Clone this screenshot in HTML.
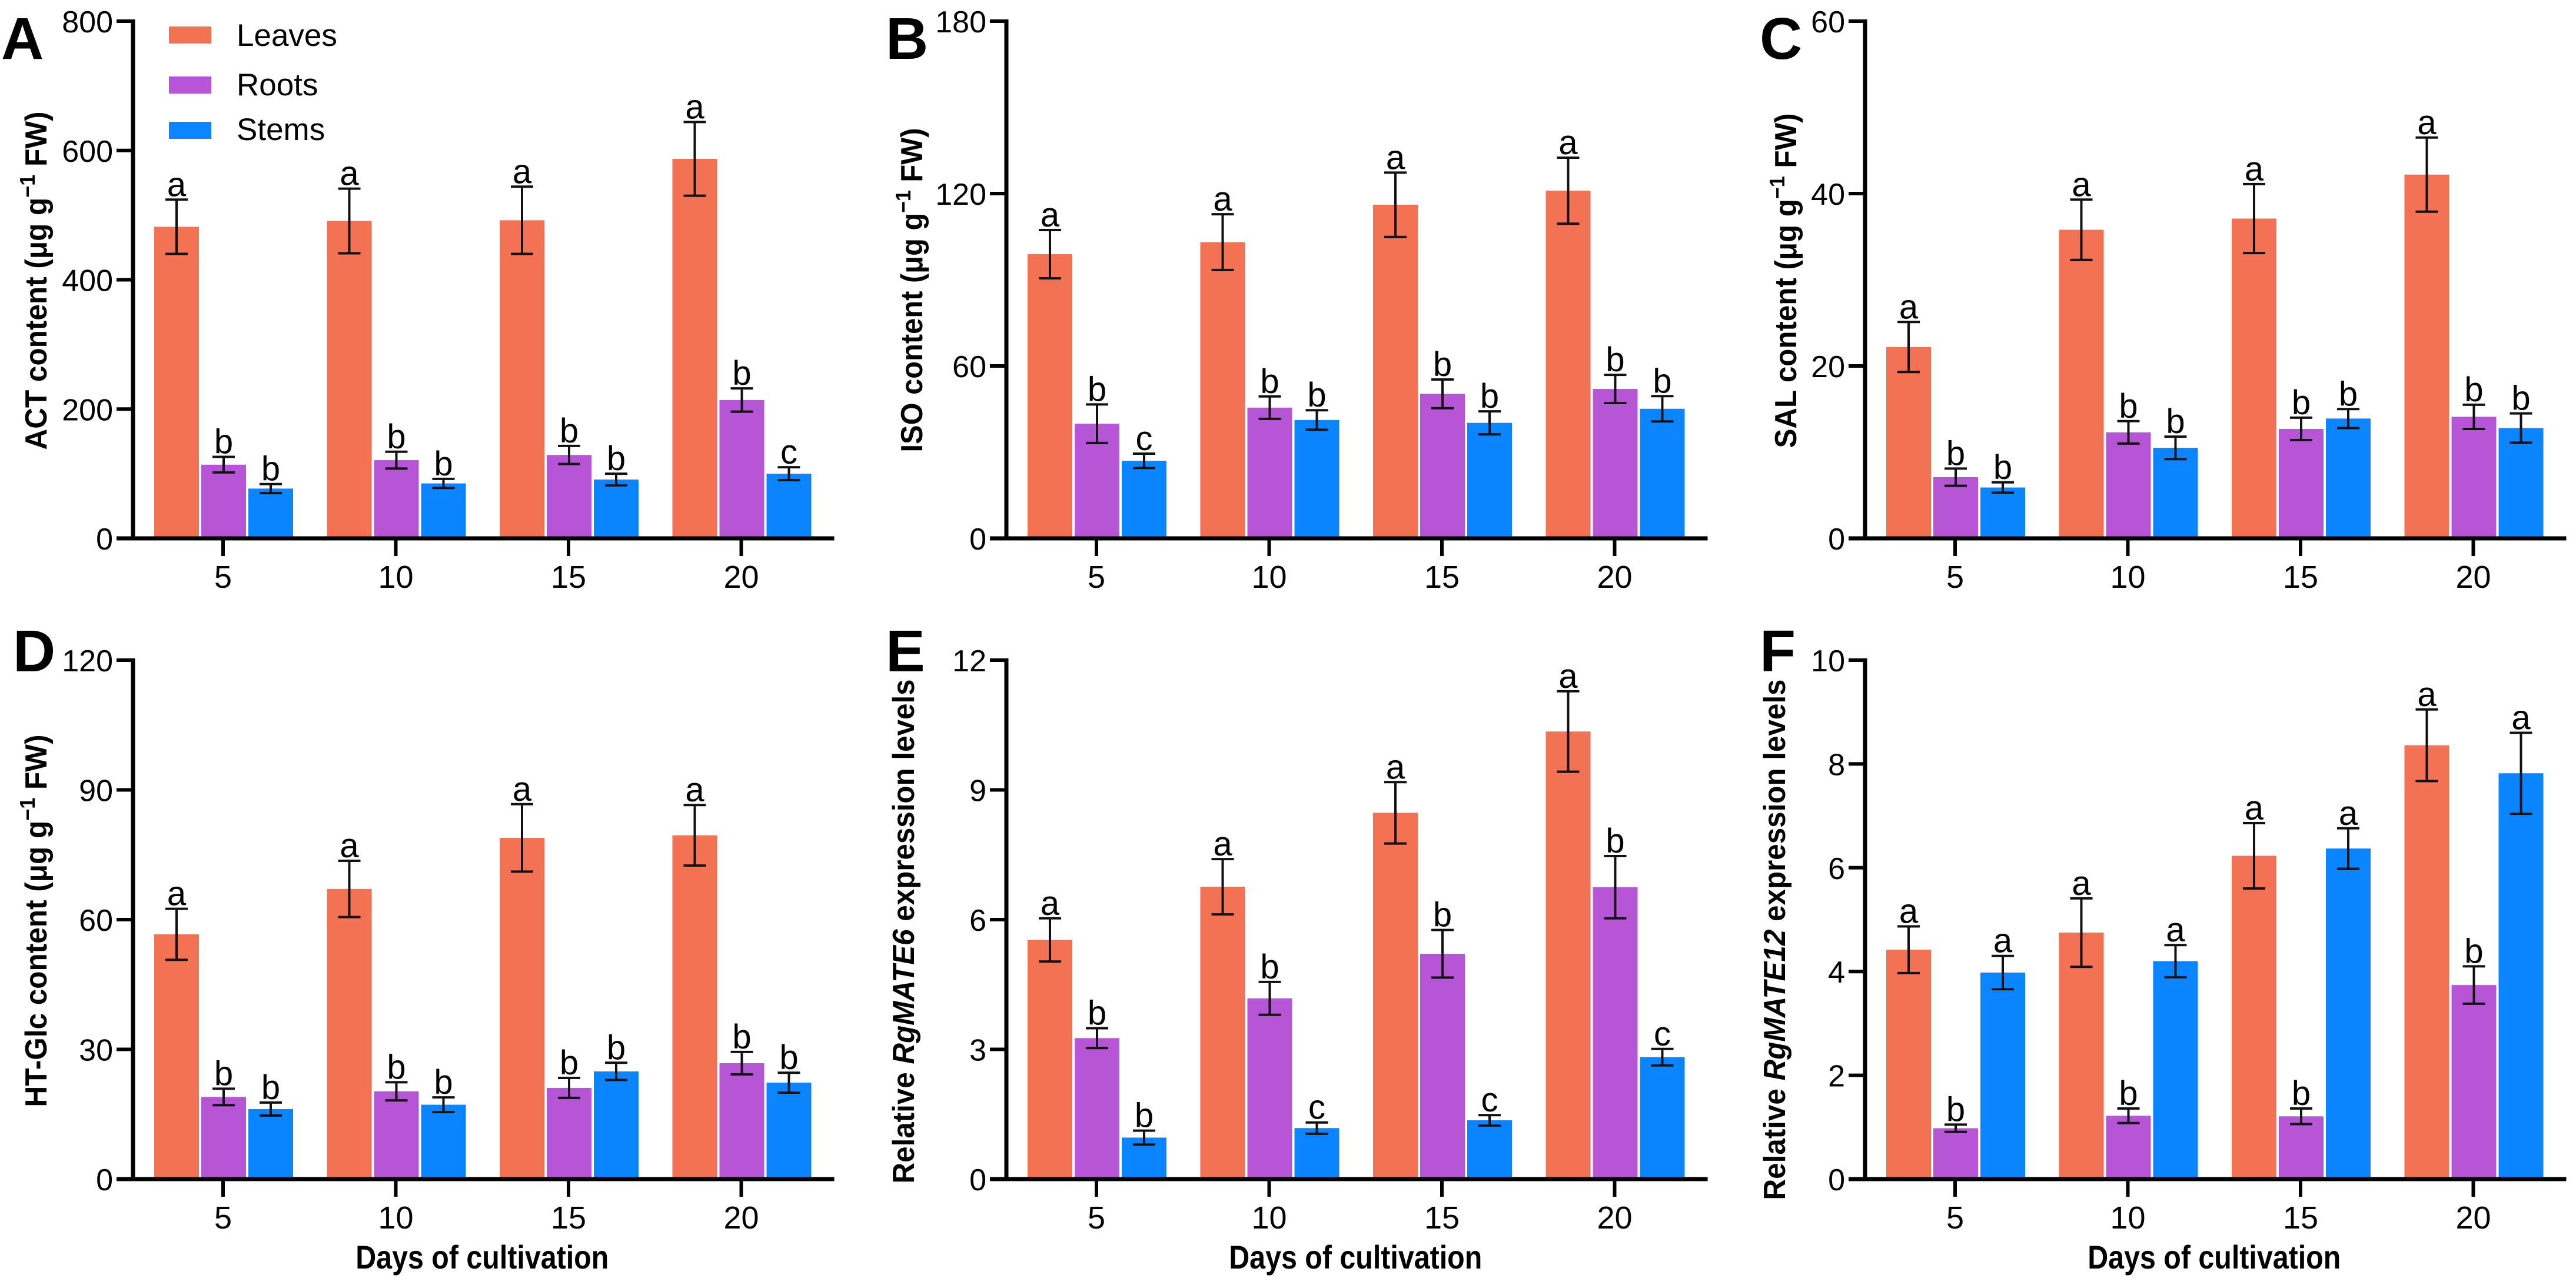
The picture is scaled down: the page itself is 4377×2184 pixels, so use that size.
<!DOCTYPE html>
<html><head><meta charset="utf-8"><style>
html,body{margin:0;padding:0;background:#fff;}
svg{display:block;font-family:"Liberation Sans",Arial,sans-serif;}
</style></head><body>
<svg id="fig" width="4377" height="2184" viewBox="0 0 4377 2184" xmlns="http://www.w3.org/2000/svg"></svg>
<script>
const categories = ["5","10","15","20"];
const seriesNames = ["Leaves","Roots","Stems"];
const colors = ["#F37254","#B656D6","#0A84FF"];
// A ACT
const actLeaves=[482,491,492,587], actLeavesErr=[42,50,52,57];
const actRoots=[114,121,129,214], actRootsErr=[12,13,14,18];
const actStems=[77,85,91,100], actStemsErr=[7,7,9,10];
const actLetters=[["a","a","a","a"],["b","b","b","b"],["b","b","b","c"]];
const actTicks=[0,200,400,600,800];
// B ISO
const isoLeaves=[98.9,103.1,116.1,121], isoLeavesErr=[8.4,9.7,11.2,11.5];
const isoRoots=[39.9,45.5,50.3,52.0], isoRootsErr=[6.7,3.9,5,4.9];
const isoStems=[27.0,41.2,40.2,45.1], isoStemsErr=[2.5,3.4,4,4.4];
const isoLetters=[["a","a","a","a"],["b","b","b","b"],["c","b","b","b"]];
const isoTicks=[0,60,120,180];
// C SAL
const salLeaves=[22.2,35.8,37.1,42.2], salLeavesErr=[2.9,3.5,4,4.3];
const salRoots=[7.1,12.3,12.7,14.1], salRootsErr=[1.0,1.3,1.3,1.4];
const salStems=[5.9,10.5,13.9,12.8], salStemsErr=[0.6,1.3,1.1,1.7];
const salLetters=[["a","a","a","a"],["b","b","b","b"],["b","b","b","b"]];
const salTicks=[0,20,40,60];
// D HT-Glc
const htLeaves=[56.6,67.1,78.9,79.5], htLeavesErr=[5.9,6.5,7.8,7];
const htRoots=[19.0,20.3,21.1,26.8], htRootsErr=[1.9,2.1,2.3,2.6];
const htStems=[16.2,17.2,24.9,22.3], htStemsErr=[1.5,1.7,2.0,2.3];
const htLetters=[["a","a","a","a"],["b","b","b","b"],["b","b","b","b"]];
const htTicks=[0,30,60,90,120];
// E RgMATE6
const m6Leaves=[5.53,6.76,8.47,10.35], m6LeavesErr=[0.5,0.64,0.71,0.93];
const m6Roots=[3.26,4.18,5.21,6.75], m6RootsErr=[0.23,0.38,0.55,0.72];
const m6Stems=[0.96,1.18,1.36,2.82], m6StemsErr=[0.16,0.13,0.12,0.19];
const m6Letters=[["a","a","a","a"],["b","b","b","b"],["b","c","c","c"]];
const m6Ticks=[0,3,6,9,12];
// F RgMATE12
const m12Leaves=[4.42,4.75,6.23,8.36], m12LeavesErr=[0.45,0.66,0.63,0.69];
const m12Roots=[0.98,1.22,1.21,3.74], m12RootsErr=[0.07,0.14,0.15,0.36];
const m12Stems=[3.98,4.20,6.37,7.82], m12StemsErr=[0.32,0.31,0.39,0.78];
const m12Letters=[["a","a","a","a"],["b","b","b","b"],["a","a","a","a"]];
const m12Ticks=[0,2,4,6,8,10];

const NS="http://www.w3.org/2000/svg";
const svg=document.getElementById('fig');
function mk(tag,attrs,parent,text){const e=document.createElementNS(NS,tag);for(const k in attrs)e.setAttribute(k,attrs[k]);if(text!==undefined)e.textContent=text;(parent||svg).appendChild(e);return e;}

const panels=[
 {id:"A",key:"act",ax:226,top:36,base:915,vals:[actLeaves,actRoots,actStems],errs:[actLeavesErr,actRootsErr,actStemsErr],letters:actLetters,ticks:actTicks,title:"ACT",lx:2,tx:61,tc:477,tl:575,xlabel:false,legend:true},
 {id:"B",key:"iso",ax:1710,top:36,base:915,vals:[isoLeaves,isoRoots,isoStems],errs:[isoLeavesErr,isoRootsErr,isoStemsErr],letters:isoLetters,ticks:isoTicks,title:"ISO",lx:1505,tx:1549,tc:493,tl:551,xlabel:false},
 {id:"C",key:"sal",ax:3169,top:36,base:915,vals:[salLeaves,salRoots,salStems],errs:[salLeavesErr,salRootsErr,salStemsErr],letters:salLetters,ticks:salTicks,title:"SAL",lx:2990,tx:3034,tc:477,tl:569,xlabel:false},
 {id:"D",key:"htglc",ax:226,top:1122,base:2004,vals:[htLeaves,htRoots,htStems],errs:[htLeavesErr,htRootsErr,htStemsErr],letters:htLetters,ticks:htTicks,title:"HT-Glc",lx:22,tx:61,tc:1565,tl:633,xlabel:true},
 {id:"E",key:"rgmate6",ax:1710,top:1122,base:2004,vals:[m6Leaves,m6Roots,m6Stems],errs:[m6LeavesErr,m6RootsErr,m6StemsErr],letters:m6Letters,ticks:m6Ticks,gene:"RgMATE6",lx:1505,tx:1535,tc:1583,tl:857,xlabel:true},
 {id:"F",key:"rgmate12",ax:3169,top:1122,base:2004,vals:[m12Leaves,m12Roots,m12Stems],errs:[m12LeavesErr,m12RootsErr,m12StemsErr],letters:m12Letters,ticks:m12Ticks,gene:"RgMATE12",lx:2990,tx:3015,tc:1597,tl:885,xlabel:true}
];
const offsets=[-79,1,81], barW=76, firstOff=153, step=293.5;

panels.forEach(p=>{
 const g=mk('g',{});
 
 
 const max=p.ticks[p.ticks.length-1];
 const y=v=>p.base-(v/max)*(p.base-p.top);
 const cx=i=>p.ax+firstOff+i*step;
 const L=mk('text',{x:p.lx,y:p.top+(p.top<100?64:19),'font-size':100,'font-weight':'bold'},g,p.id);
 
 
 p.vals.forEach((arr,s)=>{
  arr.forEach((v,i)=>{
   const x=cx(i)+offsets[s]-barW/2;
   const r=mk('rect',{x:x,y:y(v),width:barW,height:p.base-y(v),fill:colors[s]},g);
   
   
   const e=p.errs[s][i], bx=cx(i)+offsets[s];
   const eb=mk('path',{d:`M${bx},${y(v-e)}V${y(v+e)}M${bx-19},${y(v-e)}H${bx+19}M${bx-19},${y(v+e)}H${bx+19}`,stroke:'#111',"stroke-width":4,fill:'none'},g);
   
   
   const t=mk('text',{x:bx,y:y(v+e)-6,'font-size':58,'text-anchor':'middle'},g,p.letters[s][i]);
   
   
  });
 });
 const right=p.ax+firstOff+3*step+158;
 const xa=mk('line',{x1:p.ax-28,y1:p.base,x2:right,y2:p.base,stroke:'#000','stroke-width':7},g);
 
 
 const ya=mk('line',{x1:p.ax,y1:p.top-3,x2:p.ax,y2:p.base,stroke:'#000','stroke-width':7},g);
 
 
 p.ticks.forEach(tv=>{
  mk('line',{x1:p.ax-28,y1:y(tv),x2:p.ax,y2:y(tv),stroke:'#000','stroke-width':6},g);
  const t=mk('text',{x:p.ax-34,y:y(tv)+19,'font-size':52,'text-anchor':'end'},g,String(tv));
  
  
 });
 categories.forEach((c,i)=>{
  mk('line',{x1:cx(i),y1:p.base,x2:cx(i),y2:p.base+30,stroke:'#000','stroke-width':6},g);
  const t=mk('text',{x:cx(i),y:p.base+84,'font-size':54,'text-anchor':'middle'},g,c);
  
  
 });
 const yt=mk('text',{x:0,y:0,'font-size':52,'font-weight':'bold','text-anchor':'middle',textLength:p.tl,lengthAdjust:'spacingAndGlyphs',transform:`translate(${p.tx+18},${p.tc}) rotate(-90)`},g);
 
 
 if(p.gene){
  mk('tspan',{},yt,'Relative ');
  mk('tspan',{'font-style':'italic'},yt,p.gene);
  mk('tspan',{},yt,' expression levels');
 } else {
  mk('tspan',{},yt,p.title+' content (\u03bcg g');
  mk('tspan',{dy:-20,'font-size':36},yt,'\u22121');
  mk('tspan',{dy:20},yt,' FW)');
 }
 if(p.xlabel){
  const xt=mk('text',{x:(cx(0)+cx(3))/2,y:2156,'font-size':56,'font-weight':'bold','text-anchor':'middle',textLength:430,lengthAdjust:'spacingAndGlyphs'},g,'Days of cultivation');
  
  
 }
 if(p.legend){
  const lg=mk('g',{},g);
  
  
  const ys=[45,130,207], tb=[78,162,238];
  seriesNames.forEach((n,s)=>{
   const e=mk('g',{},lg);
   
   
   mk('rect',{x:287,y:ys[s],width:72,height:29,fill:colors[s]},e);
   mk('text',{x:402,y:tb[s],'font-size':53},e,n);
  });
 }
});
</script>
</body></html>
